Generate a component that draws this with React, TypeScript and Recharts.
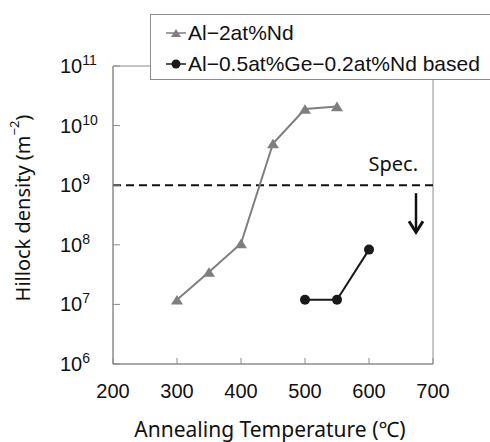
import { LineChart, Line, XAxis, YAxis, ReferenceLine, ReferenceArea, Legend } from "recharts";

const ndTemps = [300, 350, 400, 450, 500, 550];
const ndDensity = [1.2e7, 3.5e7, 1.05e8, 5e9, 1.9e10, 2.1e10];
const geTemps = [500, 550, 600];
const geDensity = [1.2e7, 1.2e7, 8.3e7];
const xTicks = [200, 300, 400, 500, 600, 700];
const yTicks = [1e6, 1e7, 1e8, 1e9, 1e10, 1e11];
const specLimit = 1e9;
const seriesNames = ["Al\u22122at%Nd", "Al\u22120.5at%Ge\u22120.2at%Nd based"];

const ndData = ndTemps.map((t, i) => ({ temp: t, density: ndDensity[i] }));
const geData = geTemps.map((t, i) => ({ temp: t, density: geDensity[i] }));

const GRAY = "#7f7f7f";
const DARK = "#1a1a1a";
const FRAME = "#8c8c8c";
const NUM_FONT = "'Liberation Sans', Arial, sans-serif";
const TITLE_FONT = "'Noto Sans', 'Noto Sans CJK JP', sans-serif";

function Triangle({ cx, cy, fill, size = 6 }: any) {
  if (cx == null || cy == null) return null;
  const h = size * 1.6;
  return (
    <polygon
      points={`${cx - size},${cy + h / 2} ${cx + size},${cy + h / 2} ${cx},${cy - h / 2}`}
      fill={fill}
    />
  );
}

function PowerTick({ x, y, payload }: any) {
  const exp = Math.round(Math.log10(payload.value));
  return (
    <g>
      <line x1={x} y1={y} x2={x + 7} y2={y} stroke={FRAME} strokeWidth={1} />
      <text x={x - 53} y={y + 7} fontFamily={NUM_FONT} fontSize={20} fill="#111">
        10
        <tspan fontSize={14} dy={-8}>
          {exp}
        </tspan>
      </text>
    </g>
  );
}

function TempTick({ x, y, payload }: any) {
  return (
    <g>
      <line x1={x} y1={y} x2={x} y2={y - 6} stroke={FRAME} strokeWidth={1} />
      <text x={x} y={y + 34} textAnchor="middle" fontFamily={NUM_FONT} fontSize={20} fill="#111">
        {payload.value}
      </text>
    </g>
  );
}

function YTitle({ viewBox }: any) {
  const cx = 22;
  const cy = viewBox.y + viewBox.height / 2 - 7;
  return (
    <text
      transform={`translate(${cx},${cy}) rotate(-90)`}
      textAnchor="middle"
      dominantBaseline="central"
      fontFamily={TITLE_FONT}
      fontSize={20}
      fill="#111"
    >
      Hillock density (m
      <tspan fontSize={13} dy={-8}>
        {"\u22122"}
      </tspan>
      <tspan dy={8}>)</tspan>
    </text>
  );
}

function XTitle({ viewBox }: any) {
  return (
    <text
      x={viewBox.x + viewBox.width / 2 - 3}
      y={viewBox.y + 73}
      textAnchor="middle"
      fontFamily={TITLE_FONT}
      fontSize={21}
      fill="#111"
    >
      Annealing Temperature (℃)
    </text>
  );
}

function SpecLabel({ viewBox }: any) {
  const right = viewBox.x + viewBox.width;
  const ax = right - 17;
  const top = viewBox.y + 8;
  const bottom = viewBox.y + 47;
  return (
    <g>
      <text x={right - 15} y={viewBox.y - 22} textAnchor="end" dominantBaseline="central" fontFamily={TITLE_FONT} fontSize={20} fill="#111">
        Spec.
      </text>
      <line x1={ax} y1={top} x2={ax} y2={bottom} stroke="#111" strokeWidth={2.5} />
      <polyline points={`${ax - 7},${bottom - 11} ${ax},${bottom} ${ax + 7},${bottom - 11}`} fill="none" stroke="#111" strokeWidth={3} />
    </g>
  );
}

function LegendBox() {
  const icons = [
    <svg width={22} height={16} key="a">
      <line x1={1} y1={8} x2={21} y2={8} stroke={GRAY} strokeWidth={1.5} />
      <Triangle cx={11} cy={8} fill={GRAY} size={5} />
    </svg>,
    <svg width={22} height={16} key="b">
      <line x1={1} y1={8} x2={21} y2={8} stroke={DARK} strokeWidth={1.5} />
      <circle cx={11} cy={8} r={4.5} fill={DARK} />
    </svg>,
  ];
  return (
    <div
      style={{
        border: `1px solid ${FRAME}`,
        background: "#fff",
        width: 345,
        height: 66,
        boxSizing: "border-box",
        padding: "2px 0 0 14px",
        fontFamily: NUM_FONT,
        fontSize: 21,
        color: "#111",
      }}
    >
      {seriesNames.map((name) => (
        <div key={name} style={{ display: "flex", alignItems: "center", height: 31 }}>
          {icons[seriesNames.indexOf(name)]}
          <span style={{ marginLeft: 1 }}>{name}</span>
        </div>
      ))}
    </div>
  );
}

export default function App() {
  return (
    <div style={{ position: "absolute", left: 0, top: 0, width: 490, height: 442, background: "#fff", overflow: "hidden" }}>
      <LineChart width={490} height={442} margin={{ top: 66, right: 57, bottom: 0, left: 0 }}>
        <ReferenceArea x1={200} x2={700} y1={1e6} y2={1e11} fill="none" stroke={FRAME} strokeWidth={1} ifOverflow="visible" />
        <XAxis
          type="number"
          dataKey="temp"
          domain={[200, 700]}
          ticks={xTicks}
          height={78}
          tickSize={0}
          tickMargin={0}
          tick={<TempTick />}
          axisLine={{ stroke: FRAME }}
          tickLine={false}
          allowDuplicatedCategory={false}
          label={<XTitle />}
        />
        <YAxis
          scale="log"
          type="number"
          domain={[1e6, 1e11]}
          ticks={yTicks}
          width={113}
          tickSize={0}
          tickMargin={0}
          tick={<PowerTick />}
          axisLine={{ stroke: FRAME }}
          tickLine={false}
          allowDataOverflow
          label={<YTitle />}
        />
        <ReferenceLine y={specLimit} stroke="#111" strokeWidth={2} strokeDasharray="8 5" label={<SpecLabel />} />
        <Line
          data={ndData}
          dataKey="density"
          name={seriesNames[0]}
          stroke={GRAY}
          strokeWidth={2}
          dot={<Triangle fill={GRAY} size={6} />}
          isAnimationActive={false}
        />
        <Line
          data={geData}
          dataKey="density"
          name={seriesNames[1]}
          stroke={DARK}
          strokeWidth={2}
          dot={{ r: 5, fill: DARK, stroke: DARK, strokeWidth: 0 }}
          isAnimationActive={false}
        />
        <Legend
          layout="horizontal"
          verticalAlign="middle"
          align="center"
          wrapperStyle={{ left: 150, top: 14, width: 345 }}
          content={<LegendBox />}
        />
      </LineChart>
    </div>
  );
}
